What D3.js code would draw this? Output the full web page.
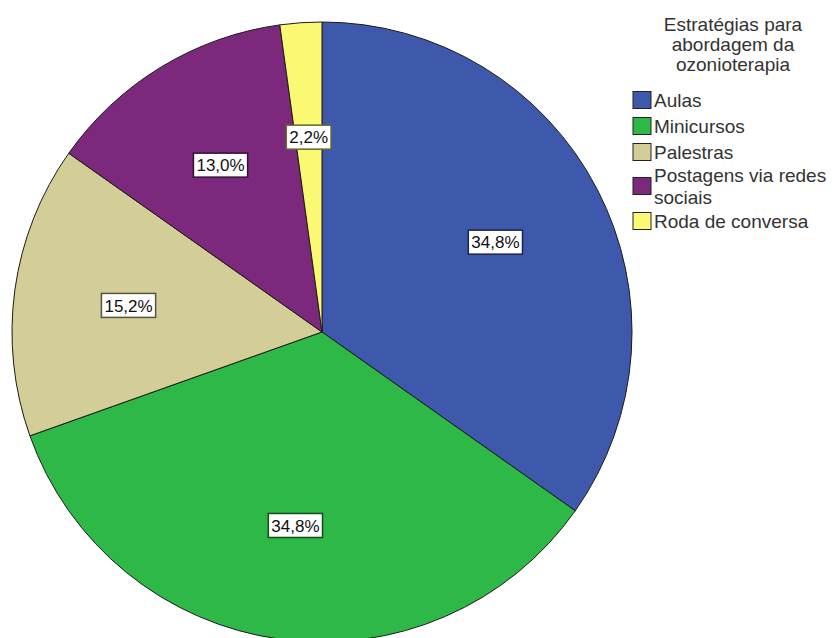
<!DOCTYPE html>
<html>
<head>
<meta charset="utf-8">
<script src="https://cdn.jsdelivr.net/npm/d3@7"></script>
<style>
  html, body { margin: 0; padding: 0; background: #fff; }
  svg { display: block; font-family: "Liberation Sans", Arial, sans-serif; }
</style>
</head>
<body>
<svg id="chart"></svg>
<script>
// data
const categories = ["Aulas", "Minicursos", "Palestras", "Postagens via redes sociais", "Roda de conversa"];
const counts = [16, 16, 7, 6, 1];
const percentLabels = ["34,8%", "34,8%", "15,2%", "13,0%", "2,2%"];
const colors = ["#3E58AC", "#2EB848", "#D3CE97", "#7C287D", "#FBF873"];
const legendTitle = ["Estratégias para", "abordagem da", "ozonioterapia"];
const legendLines = [["Aulas"], ["Minicursos"], ["Palestras"], ["Postagens via redes", "sociais"], ["Roda de conversa"]];

const width = 838, height = 638;
const cx = 322, cy = 332, radius = 310;

const svg = d3.select("#chart")
  .attr("width", width)
  .attr("height", height);

const slices = categories.map((c, i) => ({ name: c, value: counts[i], label: percentLabels[i], color: colors[i] }));

const pie = d3.pie().value(d => d.value).sort(null);
const arc = d3.arc().innerRadius(0).outerRadius(radius);
const labelArc = d3.arc().innerRadius(radius * 0.63).outerRadius(radius * 0.63);

const g = svg.append("g").attr("transform", `translate(${cx},${cy})`);
const arcs = pie(slices);

// slices
g.selectAll("path")
  .data(arcs)
  .join("path")
  .attr("d", arc)
  .attr("fill", d => d.data.color)
  .attr("stroke", "#1a1a1a")
  .attr("stroke-width", 1);

// labels with boxes
const labels = g.selectAll("g.lbl")
  .data(arcs)
  .join("g")
  .attr("class", "lbl")
  .attr("transform", d => `translate(${labelArc.centroid(d)})`);

labels.append("text")
  .attr("text-anchor", "middle")
  .attr("dy", "0.36em")
  .attr("font-size", 17)
  .attr("fill", "#111")
  .text(d => d.data.label);

labels.each(function (d) {
  const grp = d3.select(this);
  const bb = grp.select("text").node().getBBox();
  grp.insert("rect", "text")
    .attr("x", bb.x - 3)
    .attr("y", -12)
    .attr("width", bb.width + 6)
    .attr("height", 24)
    .attr("fill", "#fff")
    .attr("stroke", d3.color(d.data.color).darker(2.5))
    .attr("stroke-width", 1.5);
});

// legend
const legend = svg.append("g").attr("transform", "translate(633,0)");

legend.selectAll("text.title")
  .data(legendTitle)
  .join("text")
  .attr("class", "title")
  .attr("x", 100)
  .attr("y", (d, i) => 31 + i * 20)
  .attr("text-anchor", "middle")
  .attr("font-size", 19)
  .attr("fill", "#333")
  .text(d => d);

const rowY = [100, 126, 152, 186, 221];

const items = legend.selectAll("g.item")
  .data(legendLines)
  .join("g")
  .attr("class", "item")
  .attr("transform", (d, i) => `translate(0,${rowY[i]})`);

items.append("rect")
  .attr("x", 0)
  .attr("y", -8.5)
  .attr("width", 18)
  .attr("height", 17)
  .attr("fill", (d, i) => colors[i])
  .attr("stroke", "#222")
  .attr("stroke-width", 1);

items.each(function (lines) {
  const it = d3.select(this);
  const n = lines.length;
  lines.forEach((t, j) => {
    it.append("text")
      .attr("x", 21)
      .attr("y", (j - (n - 1) / 2) * 22)
      .attr("dy", "0.36em")
      .attr("font-size", 19)
      .attr("fill", "#333")
      .text(t);
  });
});
</script>
</body>
</html>
